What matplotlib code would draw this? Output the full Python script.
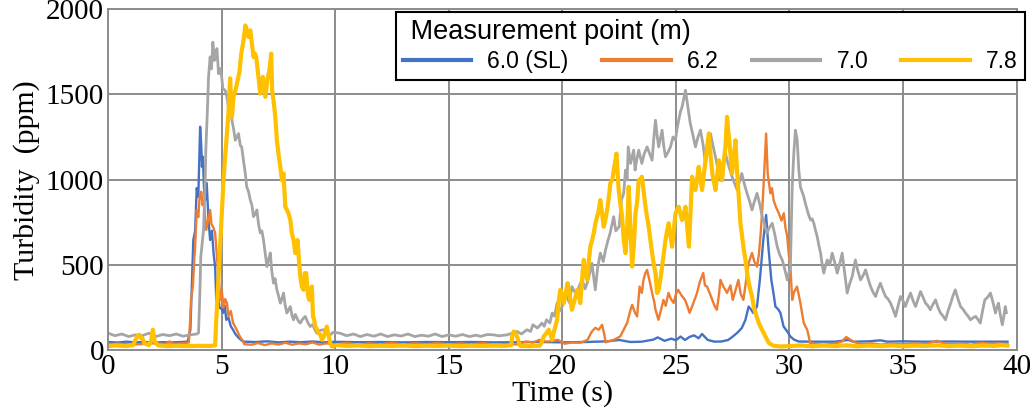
import matplotlib
matplotlib.use("Agg")
import matplotlib.pyplot as plt

# lecturas del grafico original (tiempo en s, turbidez en ppm)
t_60 = [0, 0.4, 0.8, 1.2, 1.6, 2.0, 2.4, 2.8, 3.2, 3.5, 3.62, 3.69, 3.75, 3.83, 3.9, 3.97, 4.05, 4.1,
        4.13, 4.17, 4.22, 4.27, 4.34, 4.42, 4.49, 4.57, 4.64, 4.71, 4.76, 4.83, 4.9, 5.0, 5.07, 5.14,
        5.2, 5.3, 5.4, 5.5, 5.6, 5.74, 5.9, 6.0, 6.5, 7.0, 7.5, 8.0, 8.5, 9.0, 9.5, 10, 11, 12, 13, 14,
        15, 16, 17, 18, 19, 20, 21, 22, 22.5, 23, 23.5, 24, 24.2, 24.5, 24.8, 25.0, 25.2, 25.4, 25.6,
        25.8, 26.0, 26.15, 26.4, 26.7, 27.0, 27.3, 27.5, 27.7, 27.9, 28.06, 28.2, 28.3, 28.4, 28.57,
        28.7, 28.85, 28.97, 29.07, 29.2, 29.3, 29.38, 29.5, 29.6, 29.74, 29.9, 30.04, 30.2, 30.4, 31,
        32, 32.6, 32.8, 33.5, 34.0, 34.3, 35, 36, 37, 38, 39, 39.6]
v_60 = [48, 45, 50, 46, 48, 44, 47, 46, 48, 50, 120, 400, 646, 700, 950, 900, 1310, 1200,
        1075, 1134, 950, 880, 980, 760, 646, 700, 570, 490, 295, 350, 250, 240, 219, 260,
        178, 190, 140, 120, 95, 73, 55, 50, 48, 52, 46, 50, 47, 51, 46, 49, 47, 48, 46, 48,
        47, 48, 46, 47, 48, 46, 48, 52, 60, 48, 50, 62, 75, 55, 68, 58, 80, 60, 78,
        87, 70, 95, 60, 50, 51, 60, 80, 102, 130, 178, 256, 240, 219, 256,
        420, 650, 793, 607, 412, 330, 256, 240, 219, 139, 110, 80, 62, 51, 50,
        50, 60, 50, 52, 58, 50, 52, 50, 51, 50, 50, 50]

t_62 = [0, 0.5, 1, 1.5, 2, 2.5, 2.7, 2.9, 3.3, 3.55, 3.6, 3.65, 3.73, 3.8, 3.83, 3.9, 3.97, 4.03,
        4.1, 4.16, 4.2, 4.27, 4.32, 4.4, 4.49, 4.55, 4.63, 4.71, 4.8, 4.85, 4.95, 5.0, 5.08, 5.15,
        5.23, 5.3, 5.4, 5.5, 5.66, 5.8, 5.9, 6.0, 6.3, 6.6, 6.9, 7.2, 7.5, 7.8, 8.1, 8.4, 8.7, 9.0,
        9.3, 9.6, 10, 10.5, 11, 11.5, 12, 12.5, 13, 13.5, 14, 14.5, 15, 15.5, 16, 16.5, 17, 17.5, 18,
        18.4, 18.7, 19.0, 19.3, 19.6, 19.8, 20.1, 20.4, 20.8, 21.1, 21.3, 21.45, 21.6, 21.75, 21.85,
        21.9, 22.1, 22.26, 22.4, 22.55, 22.7, 22.85, 23.0, 23.07, 23.2, 23.29, 23.4, 23.5, 23.57,
        23.65, 23.73, 23.85, 23.95, 24.05, 24.1, 24.23, 24.35, 24.45, 24.55, 24.67, 24.78, 24.9,
        25.0, 25.1, 25.25, 25.4, 25.5, 25.6, 25.75, 25.93, 26.05, 26.2, 26.28, 26.37, 26.5, 26.6,
        26.7, 26.8, 26.9, 26.96, 27.1, 27.25, 27.4, 27.5, 27.62, 27.75, 27.85, 27.97, 28.1, 28.2,
        28.35, 28.45, 28.57, 28.65, 28.72, 28.8, 28.87, 28.97, 29.04, 29.1, 29.16, 29.23, 29.3,
        29.4, 29.53, 29.65, 29.75, 29.82, 29.9, 29.97, 30.04, 30.12, 30.2, 30.33, 30.4, 30.48,
        30.55, 30.63, 30.7, 30.78, 30.85, 30.9, 31.2, 31.5, 32, 32.3, 32.5, 32.7, 32.9, 33.2, 33.6,
        34, 34.5, 35, 35.5, 36, 36.5, 36.8, 37.2, 37.6, 38, 38.5, 38.8, 39.2, 39.6]
v_62 = [35, 38, 33, 36, 40, 36, 51, 38, 40, 45, 150, 300, 373, 550, 607, 822, 780, 900,
        929, 850, 880, 783, 705, 760, 822, 740, 720, 687, 530, 453, 295, 354, 250, 300,
        277, 198, 230, 160, 120, 80, 61, 35, 32, 42, 30, 40, 33, 44, 32, 40, 35, 45,
        33, 40, 34, 42, 32, 40, 34, 43, 32, 41, 35, 42, 33, 40, 34, 42, 32, 36, 34,
        51, 45, 61, 50, 55, 61, 38, 45, 44, 60, 110, 131, 120, 149, 90,
        46, 55, 61, 70, 81, 120, 160, 237, 266, 219, 198, 373, 336, 412,
        450, 471, 400, 336, 280, 237, 178, 240, 295, 260, 336, 300, 277,
        330, 354, 320, 295, 260, 219, 270, 336, 400, 453, 380, 373, 330, 295,
        260, 237, 330, 412, 370, 336, 380, 295, 350, 412, 330, 295, 420, 511,
        570, 520, 490, 560, 666, 820, 997, 1270, 1036, 980, 920, 950, 880,
        840, 803, 760, 803, 720, 666, 560, 490, 295, 340, 373, 330, 277,
        220, 159, 140, 120, 80, 42, 35, 32, 38, 50, 77, 60, 45, 35, 40,
        33, 38, 34, 40, 35, 55, 40, 35, 38, 32, 44, 36, 40, 35]

t_70 = [0, 0.3, 0.6, 0.9, 1.2, 1.5, 1.8, 2.1, 2.4, 2.7, 3.0, 3.3, 3.6, 3.9, 3.98, 4.03, 4.08, 4.2,
        4.27, 4.3, 4.37, 4.42, 4.49, 4.55, 4.61, 4.68, 4.74, 4.79, 4.86, 4.93, 5.0, 5.05, 5.15, 5.23,
        5.3, 5.38, 5.45, 5.52, 5.6, 5.67, 5.74, 5.82, 5.88, 5.95, 6.04, 6.1, 6.18, 6.26, 6.33, 6.4,
        6.48, 6.55, 6.62, 6.7, 6.77, 6.84, 6.92, 6.99, 7.06, 7.14, 7.2, 7.28, 7.35, 7.43, 7.5, 7.58,
        7.65, 7.72, 7.8, 7.87, 7.95, 8.02, 8.1, 8.16, 8.24, 8.31, 8.38, 8.46, 8.55, 8.68, 8.8, 8.9,
        9.0, 9.1, 9.19, 9.3, 9.48, 9.6, 9.78, 9.9, 10.2, 10.5, 10.8, 11.1, 11.4, 11.7, 12.0, 12.3,
        12.6, 12.9, 13.2, 13.5, 13.8, 14.1, 14.4, 14.7, 15.0, 15.3, 15.6, 15.9, 16.2, 16.4, 16.7,
        16.97, 17.2, 17.56, 17.8, 18.0, 18.2, 18.44, 18.6, 18.7, 18.9, 19.1, 19.2, 19.3, 19.45,
        19.55, 19.65, 19.77, 19.88, 19.99, 20.1, 20.2, 20.3, 20.42, 20.55, 20.65, 20.75, 20.87,
        21.0, 21.09, 21.2, 21.3, 21.45, 21.55, 21.67, 21.8, 21.9, 22.0, 22.1, 22.26, 22.35, 22.5,
        22.6, 22.7, 22.78, 22.85, 22.9, 23.0, 23.07, 23.14, 23.2, 23.28, 23.36, 23.5, 23.6, 23.73,
        23.85, 23.95, 24.03, 24.1, 24.17, 24.24, 24.39, 24.46, 24.54, 24.65, 24.76, 24.87, 24.98,
        25.05, 25.12, 25.2, 25.27, 25.35, 25.42, 25.5, 25.57, 25.63, 25.7, 25.78, 25.86, 25.97,
        26.08, 26.2, 26.3, 26.4, 26.52, 26.63, 26.74, 26.85, 26.96, 27.07, 27.18, 27.3, 27.47,
        27.58, 27.7, 27.8, 27.9, 28.0, 28.13, 28.25, 28.35, 28.45, 28.57, 28.7, 28.8, 28.9, 29.0,
        29.12, 29.24, 29.35, 29.46, 29.57, 29.68, 29.8, 29.9, 29.97, 30.04, 30.12, 30.19, 30.26,
        30.34, 30.41, 30.48, 30.55, 30.63, 30.7, 30.78, 30.85, 30.93, 31.0, 31.07, 31.15, 31.22,
        31.3, 31.37, 31.44, 31.51, 31.58, 31.66, 31.77, 31.88, 32.0, 32.1, 32.2, 32.32, 32.43,
        32.54, 32.65, 32.76, 32.83, 32.9, 33.0, 33.13, 33.25, 33.35, 33.46, 33.57, 33.68, 33.79,
        33.9, 34.0, 34.12, 34.23, 34.34, 34.45, 34.56, 34.67, 34.78, 34.89, 35.0, 35.1, 35.22,
        35.33, 35.44, 35.55, 35.66, 35.77, 35.88, 35.99, 36.1, 36.2, 36.32, 36.43, 36.54, 36.65,
        36.76, 36.87, 36.98, 37.1, 37.2, 37.3, 37.42, 37.53, 37.64, 37.75, 37.86, 37.97, 38.08,
        38.2, 38.3, 38.4, 38.5, 38.6, 38.72, 38.85, 38.96, 39.07, 39.13, 39.2, 39.28, 39.37,
        39.44, 39.5, 39.55]
v_70 = [100, 85, 95, 80, 90, 85, 100, 80, 92, 85, 95, 82, 90, 95, 102, 300, 549, 705,
        978, 1173, 1407, 1602, 1719, 1650, 1806, 1699, 1720, 1768, 1621, 1651, 1602, 1534, 1524, 1485,
        1420, 1440, 1348, 1300, 1231, 1250, 1270, 1200, 1192, 1120, 1036, 958, 930, 880, 850, 783,
        800, 822, 740, 687, 700, 646, 560, 490, 530, 570, 470, 393, 420, 354, 320, 276,
        300, 335, 260, 218, 240, 256, 200, 178, 210, 190, 170, 159, 180, 198, 160, 139,
        150, 120, 100, 115, 120, 100, 90, 105, 100, 85, 95, 80, 92, 82, 95, 80,
        90, 83, 95, 80, 88, 82, 95, 80, 90, 82, 92, 80, 88, 81, 92,
        90, 84, 90, 100, 110, 95, 120, 110, 149, 130, 159, 140, 178, 160,
        218, 200, 277, 230, 256, 300, 315, 280, 373, 340, 335, 380, 412,
        360, 393, 450, 510, 354, 480, 569, 520, 588, 640, 686, 783, 700, 724,
        880, 920, 1056, 997, 1192, 1095, 1134, 1173, 1056, 1120, 1173, 1095, 1150, 1192,
        1150, 1114, 1250, 1348, 1260, 1192, 1290, 1200, 1134, 1160, 1192, 1250, 1231,
        1300, 1348, 1400, 1426, 1480, 1524, 1450, 1387, 1330, 1290, 1240, 1192, 1250,
        1290, 1200, 1095, 1180, 1270, 1200, 1134, 1060, 997, 1080, 1153, 1090, 1017,
        980, 939, 990, 1036, 980, 920, 870, 822, 870, 920, 850, 783, 740, 686,
        720, 744, 680, 607, 560, 529, 470, 412, 450, 490, 958, 1153, 1290,
        1231, 1056, 958, 930, 900, 860, 822, 790, 763, 770, 744, 700, 666,
        610, 569, 500, 452, 490, 529, 500, 569, 510, 452, 500, 569, 450,
        335, 390, 432, 480, 529, 470, 412, 440, 471, 420, 373, 340, 315,
        360, 393, 350, 315, 300, 276, 240, 198, 260, 315, 290, 256, 300,
        335, 290, 256, 300, 344, 310, 276, 260, 237, 270, 295, 250, 218,
        200, 178, 230, 276, 320, 354, 300, 256, 240, 218, 200, 178, 190,
        198, 180, 159, 230, 295, 310, 335, 280, 218, 250, 276, 210, 149,
        200, 256, 220]

t_78 = [0, 0.4, 0.8, 1.1, 1.2, 1.3, 1.38, 1.45, 1.5, 1.6, 1.8, 1.9, 1.97, 2.05, 2.2, 2.6, 3.0, 3.5,
        4.0, 4.5, 4.71, 4.75, 4.83, 4.96, 5.08, 5.16, 5.23, 5.3, 5.37, 5.45, 5.52, 5.6, 5.67, 5.78,
        5.86, 5.96, 6.04, 6.11, 6.18, 6.26, 6.33, 6.4, 6.46, 6.52, 6.62, 6.7, 6.76, 6.81, 6.92, 7.02,
        7.1, 7.18, 7.22, 7.28, 7.36, 7.43, 7.5, 7.58, 7.65, 7.72, 7.8, 7.87, 7.94, 8.02, 8.09, 8.17,
        8.24, 8.34, 8.4, 8.46, 8.53, 8.6, 8.66, 8.72, 8.8, 8.85, 8.92, 8.97, 9.02, 9.07, 9.12, 9.2,
        9.27, 9.35, 9.41, 9.5, 9.57, 9.63, 9.7, 9.78, 9.85, 10.07, 10.5, 11, 11.5, 12, 12.5, 13,
        13.5, 14, 14.5, 15, 15.5, 16, 16.5, 17, 17.5, 17.75, 17.8, 17.86, 17.95, 18.0, 18.1, 18.15,
        18.6, 19.0, 19.1, 19.18, 19.3, 19.4, 19.48, 19.55, 19.65, 19.77, 19.85, 19.91, 20.0, 20.06,
        20.15, 20.23, 20.32, 20.42, 20.55, 20.65, 20.72, 20.79, 20.87, 20.94, 21.0, 21.09, 21.16,
        21.23, 21.3, 21.38, 21.45, 21.53, 21.6, 21.67, 21.75, 21.82, 21.9, 21.97, 22.05, 22.11,
        22.2, 22.26, 22.32, 22.38, 22.43, 22.48, 22.56, 22.63, 22.7, 22.78, 22.85, 22.92, 23.0,
        23.07, 23.15, 23.22, 23.3, 23.36, 23.43, 23.5, 23.58, 23.66, 23.73, 23.8, 23.88, 23.95,
        24.03, 24.1, 24.17, 24.24, 24.32, 24.39, 24.46, 24.54, 24.61, 24.68, 24.75, 24.83, 24.9,
        24.98, 25.05, 25.12, 25.2, 25.27, 25.35, 25.42, 25.5, 25.57, 25.64, 25.71, 25.78, 25.86,
        25.93, 26.0, 26.07, 26.15, 26.22, 26.3, 26.37, 26.45, 26.52, 26.6, 26.67, 26.74, 26.82,
        26.89, 26.96, 27.03, 27.1, 27.18, 27.25, 27.3, 27.36, 27.42, 27.47, 27.55, 27.62, 27.67,
        27.72, 27.78, 27.84, 27.92, 27.99, 28.05, 28.1, 28.15, 28.21, 28.28, 28.35, 28.42, 28.5,
        28.57, 28.65, 28.75, 28.87, 28.98, 29.09, 29.3, 29.6, 30, 30.5, 31, 31.5, 32, 32.5, 33,
        33.5, 34, 34.5, 35, 35.5, 36, 36.5, 37, 37.5, 38, 38.5, 39, 39.3, 39.6]
v_78 = [25, 28, 24, 30, 60, 85, 90, 70, 72, 40, 30, 60, 120, 50, 28, 24, 26, 24,
        26, 25, 28, 150, 354, 686, 997, 1150, 1270, 1400, 1594, 1368, 1485, 1520, 1563, 1631,
        1739, 1816, 1904, 1875, 1836, 1875, 1797, 1719, 1740, 1719, 1602, 1504, 1560, 1602, 1485, 1594,
        1641, 1739, 1524, 1465, 1368, 1231, 1150, 1075, 997, 1036, 841, 822, 803, 763, 686, 640,
        569, 646, 529, 432, 373, 354, 452, 452, 320, 295, 300, 373, 198, 178, 139, 120,
        100, 90, 61, 80, 110, 139, 90, 42, 22, 30, 25, 28, 24, 26, 25, 27,
        24, 26, 25, 27, 24, 26, 25, 27, 25, 30, 90, 110, 95, 81, 40, 25,
        24, 26, 50, 81, 100, 120, 90, 61, 120, 178, 300, 354, 320, 276,
        340, 393, 320, 237, 300, 354, 320, 276, 420, 529, 460, 412, 520,
        607, 640, 686, 740, 783, 820, 880, 800, 724, 770, 822, 900, 978,
        1000, 1056, 1100, 1153, 1050, 939, 850, 783, 650, 569, 700, 958, 700,
        490, 620, 803, 880, 997, 1000, 1017, 930, 841, 780, 724, 640, 569,
        500, 452, 335, 354, 420, 490, 560, 646, 700, 744, 680, 607, 700,
        803, 820, 841, 800, 763, 800, 841, 720, 607, 800, 1017, 980, 939,
        1000, 1075, 1010, 939, 1020, 1114, 1190, 1270, 1150, 1036, 990, 939, 1030,
        1114, 1050, 997, 1100, 1192, 1368, 1290, 1212, 1120, 1036, 1130, 1231, 1100,
        997, 870, 744, 660, 588, 540, 490, 440, 393, 350, 315, 260, 218,
        190, 159, 130, 100, 70, 42, 26, 22, 24, 28, 23, 27, 24, 29, 23,
        27, 24, 28, 23, 27, 25, 29, 24, 27, 23, 28, 25, 30, 27]

series = [("6.0 (SL)", t_60, v_60, "#4472C4", 1.7),
          ("6.2", t_62, v_62, "#ED7D31", 1.7),
          ("7.0", t_70, v_70, "#A5A5A5", 2.0),
          ("7.8", t_78, v_78, "#FFC000", 3.0)]

x_ticks = [0, 5, 10, 15, 20, 25, 30, 35, 40]
y_ticks = [0, 500, 1000, 1500, 2000]

fig = plt.figure(figsize=(10.3, 4.12), dpi=100)
ax = fig.add_axes([0.105, 0.15, 0.882, 0.828])

for nombre, t, v, color, lw in series:
    ax.plot(t, v, color=color, linewidth=lw, label=nombre)

ax.set_xlim(0, 40)
ax.set_ylim(0, 2000)
ax.set_xticks(x_ticks)
ax.set_yticks(y_ticks)
ax.grid(True, color="#8c8c8c", linewidth=1.4)
ax.set_axisbelow(True)
for s in ax.spines.values():
    s.set_color("#8c8c8c")
    s.set_linewidth(1.4)
ax.tick_params(length=0, pad=3)
for lab in ax.get_xticklabels() + ax.get_yticklabels():
    lab.set_fontfamily("Liberation Serif")
    lab.set_fontsize(21)

ax.set_xlabel("Time (s)", fontfamily="Liberation Serif", fontsize=21.5, labelpad=0)
ax.set_ylabel("Turbidity  (ppm)", fontfamily="Liberation Serif", fontsize=21.5, labelpad=4)

# leyenda con titulo arriba a la izquierda
leg = ax.legend(loc="upper right", bbox_to_anchor=(1.009, 0.99), ncol=4,
                title=" Measurement point (m)", alignment="left",
                prop={"family": "Liberation Sans", "size": 16.5},
                title_fontproperties={"family": "Liberation Sans", "size": 19.5},
                frameon=True, fancybox=False, framealpha=1, edgecolor="black",
                borderaxespad=0, handlelength=3.0, columnspacing=1.45,
                handletextpad=0.7, borderpad=0.3, labelspacing=0.2)
leg.get_frame().set_linewidth(1.5)
for h in leg.get_lines():
    h.set_linewidth(3)

plt.savefig("out.png", dpi=100)
